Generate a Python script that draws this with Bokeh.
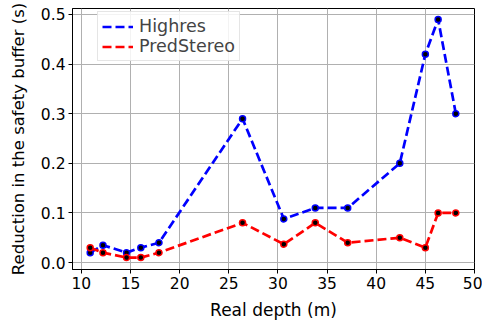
from bokeh.plotting import figure
from bokeh.models import Legend, LegendItem, Range1d, FixedTicker, CustomJSTickFormatter
from bokeh.embed import file_html
from bokeh.resources import INLINE

depth = [10.9, 12.2, 14.6, 16.05, 17.9, 26.4, 30.6, 33.8, 37.1, 42.4, 45.0, 46.3, 48.1]
highres = [0.02, 0.035, 0.02, 0.03, 0.04, 0.29, 0.088, 0.11, 0.11, 0.2, 0.42, 0.49, 0.3]
predstereo = [0.03, 0.02, 0.01, 0.01, 0.02, 0.08, 0.037, 0.08, 0.04, 0.05, 0.03, 0.1, 0.1]
x_ticks = [10, 15, 20, 25, 30, 35, 40, 45, 50]
y_ticks = [0.0, 0.1, 0.2, 0.3, 0.4, 0.5]

FONT = "DejaVu Sans"

p = figure(width=482, height=322, output_backend="svg", toolbar_location=None,
           x_range=Range1d(9.1, 50.0), y_range=Range1d(-0.014, 0.512),
           min_border_left=72, min_border_right=8, min_border_top=8, min_border_bottom=52)

p.outline_line_color = "black"
p.outline_line_width = 1
p.background_fill_color = "white"
p.border_fill_color = "white"

for ax in (p.xaxis[0], p.yaxis[0]):
    ax.major_label_text_font = FONT
    ax.major_label_text_font_size = "15.5px"
    ax.major_label_text_color = "black"
    ax.axis_label_text_font = FONT
    ax.axis_label_text_font_style = "normal"
    ax.axis_label_text_color = "black"
    ax.minor_tick_line_color = None
    ax.major_tick_out = 4
    ax.major_tick_in = 0
    ax.major_label_standoff = 3
    ax.axis_line_color = "black"
    ax.major_tick_line_color = "black"

p.xaxis.axis_label_text_font_size = "17px"
p.yaxis.axis_label_text_font_size = "16.5px"
p.xaxis.ticker = FixedTicker(ticks=x_ticks)
p.yaxis.ticker = FixedTicker(ticks=y_ticks)
p.yaxis.formatter = CustomJSTickFormatter(code="return tick.toFixed(1);")
p.xaxis.axis_label = "Real depth (m)"
p.yaxis.axis_label = "Reduction in the safety buffer (s)"
p.xaxis.axis_label_standoff = 8
p.yaxis.axis_label_standoff = 10

p.xgrid.grid_line_color = "#b0b0b0"
p.ygrid.grid_line_color = "#b0b0b0"
p.xgrid.grid_line_width = 1
p.ygrid.grid_line_width = 1

l1 = p.line(depth, highres, line_color="#0000ff", line_width=2.7, line_dash="9 4")
p.scatter(depth, highres, size=6, fill_color="black", line_color="#0000ff", line_width=1.5)
l2 = p.line(depth, predstereo, line_color="#ff0000", line_width=2.7, line_dash="9 4")
p.scatter(depth, predstereo, size=6, fill_color="black", line_color="#ff0000", line_width=1.5)

legend = Legend(items=[LegendItem(label="Highres", renderers=[l1]),
                       LegendItem(label="PredStereo", renderers=[l2])],
                location=(25, 208))
legend.label_text_font = FONT
legend.label_text_font_size = "17.5px"
legend.glyph_width = 31
legend.glyph_height = 19
legend.label_height = 19
legend.label_standoff = 6
legend.spacing = 0
legend.padding = 4
legend.margin = 0
legend.border_line_color = "#cccccc"
legend.border_line_width = 1
legend.background_fill_alpha = 0.85
p.add_layout(legend, "center")

open("out.html", "w").write(file_html(p, INLINE))
